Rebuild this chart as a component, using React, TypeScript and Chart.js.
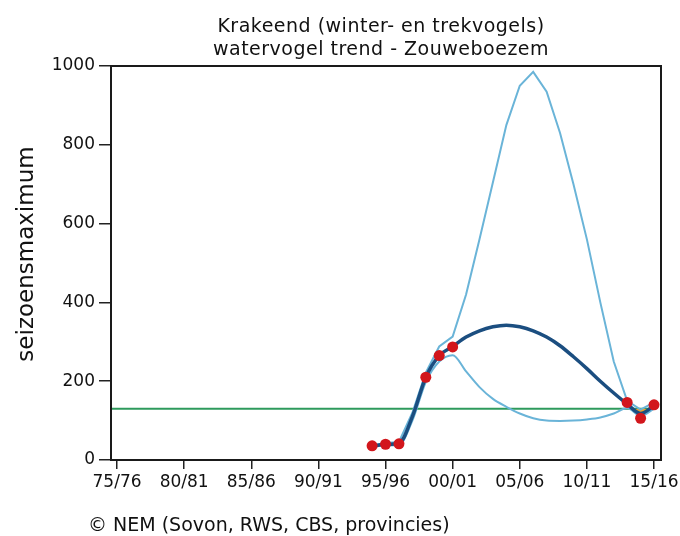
import React, { useEffect, useRef } from 'react';
import { Chart, registerables } from 'chart.js';

Chart.register(...registerables);

const titleLines = ['Krakeend (winter- en trekvogels)', 'watervogel trend - Zouweboezem'];
const footerText = '© NEM (Sovon, RWS, CBS, provincies)';
const yAxisTitle = 'seizoensmaximum';

const years = [1994, 1995, 1996, 1997, 1998, 1999, 2000, 2001, 2002, 2003, 2004, 2005, 2006, 2007, 2008, 2009, 2010, 2011, 2012, 2013, 2014, 2015];
const trend = [35, 40, 42, 110, 210, 265, 288, 312, 328, 338, 342, 338, 328, 312, 290, 262, 232, 200, 170, 142, 118, 138];
const upper = [37, 43, 46, 120, 222, 288, 313, 420, 560, 705, 850, 950, 985, 935, 830, 700, 560, 400, 250, 150, 128, 146];
const lower = [33, 37, 38, 100, 198, 250, 266, 225, 185, 155, 135, 118, 106, 100, 99, 100, 103, 108, 118, 132, 112, 130];

const obsYears = [1994, 1995, 1996, 1998, 1999, 2000, 2013, 2014, 2015];
const obsValues = [36, 40, 41, 210, 265, 287, 146, 106, 140];

const baselineValue = 130;
const baselineYears = [1974.55, 2015];

const tickYears = [1975, 1980, 1985, 1990, 1995, 2000, 2005, 2010, 2015];
const tickLabels = ['75/76', '80/81', '85/86', '90/91', '95/96', '00/01', '05/06', '10/11', '15/16'];
const yTicks = [0, 200, 400, 600, 800, 1000];
const yTickLabels = ['0', '200', '400', '600', '800', '1000'];

const X_MIN = 1974.55;
const X_MAX = 2015.52;

const FONT = '"DejaVu Sans", Verdana, sans-serif';

const decorPlugin = {
  id: 'decor',
  afterDraw(chart: any) {
    const { ctx, chartArea: a } = chart;
    ctx.save();
    ctx.strokeStyle = '#1a1a1a';
    ctx.lineWidth = 2;
    ctx.strokeRect(a.left, a.top, a.right - a.left, a.bottom - a.top);
    ctx.fillStyle = '#111';
    ctx.font = `19px ${FONT}`;
    ctx.textAlign = 'center';
    ctx.textBaseline = 'alphabetic';
    (ctx as any).letterSpacing = '0.5px';
    ctx.fillText(titleLines[0], 381, 32);
    ctx.fillText(titleLines[1], 381, 55);
    (ctx as any).letterSpacing = '0px';
    ctx.textAlign = 'left';
    ctx.fillText(footerText, 88, 531);
    // y-axis title
    ctx.save();
    ctx.translate(27, 254);
    ctx.rotate(-Math.PI / 2);
    ctx.font = `23px ${FONT}`;
    ctx.textAlign = 'center';
    ctx.textBaseline = 'middle';
    ctx.fillText(yAxisTitle, 0, 0);
    ctx.restore();
    ctx.restore();
  },
};

export default function App() {
  const ref = useRef<HTMLCanvasElement | null>(null);

  useEffect(() => {
    if (!ref.current) return;
    const toXY = (xs: number[], ys: number[]) => xs.map((x, i) => ({ x, y: ys[i] }));
    const i2013 = years.indexOf(2013);

    const chart = new Chart(ref.current, {
      type: 'line',
      data: {
        datasets: [
          {
            label: 'telling',
            data: toXY(obsYears, obsValues),
            showLine: false,
            pointRadius: 5.5,
            pointBackgroundColor: '#d2161c',
            pointBorderColor: '#d2161c',
            pointBorderWidth: 0,
          },
          {
            label: 'trend',
            data: toXY(years, trend),
            borderColor: '#1b4e80',
            borderWidth: 3.5,
            pointRadius: 0,
            cubicInterpolationMode: 'monotone',
            fill: false,
          },
          {
            label: 'bovengrens',
            data: toXY(years, upper),
            borderColor: '#6ab4d8',
            borderWidth: 2,
            pointRadius: 0,
            tension: 0,
            fill: false,
          },
          {
            label: 'ondergrens',
            data: toXY(years, lower),
            borderColor: '#6ab4d8',
            borderWidth: 2,
            pointRadius: 0,
            cubicInterpolationMode: 'monotone',
            fill: false,
          },
          {
            label: 'afname',
            data: toXY(years.slice(i2013), trend.slice(i2013)),
            borderWidth: 0,
            borderColor: 'rgba(0,0,0,0)',
            pointRadius: 0,
            cubicInterpolationMode: 'monotone',
            fill: { target: { value: baselineValue }, above: 'rgba(0,0,0,0)', below: '#f4a428' },
          },
          {
            label: 'referentie',
            data: baselineYears.map((x) => ({ x, y: baselineValue })),
            borderColor: '#2e9a5c',
            borderWidth: 2,
            pointRadius: 0,
            tension: 0,
            fill: false,
          },
        ],
      },
      options: {
        animation: false,
        responsive: false,
        events: [],
        layout: { padding: { left: 0, right: 19, top: 66, bottom: 36 } },
        plugins: {
          legend: { display: false },
          tooltip: { enabled: false },
          title: { display: false },
        },
        scales: {
          x: {
            type: 'linear',
            min: X_MIN,
            max: X_MAX,
            afterBuildTicks: (s: any) => {
              s.ticks = tickYears.map((v) => ({ value: v }));
            },
            afterFit: (s: any) => {
              s.height = 40;
              s.paddingLeft = 0;
              s.paddingRight = 0;
            },
            ticks: {
              autoSkip: false,
              maxRotation: 0,
              padding: 3,
              color: '#111',
              font: { family: FONT, size: 17 },
              callback: (_v: any, i: number) => tickLabels[i],
            },
            grid: { drawOnChartArea: false, tickLength: 9, color: '#222', lineWidth: 1.5 },
            border: { color: '#1a1a1a', width: 2 },
          },
          y: {
            min: 0,
            max: 1000,
            afterBuildTicks: (s: any) => {
              s.ticks = yTicks.map((v) => ({ value: v }));
            },
            afterFit: (s: any) => {
              s.width = 111;
            },
            ticks: {
              padding: 4,
              color: '#111',
              font: { family: FONT, size: 17 },
              callback: (_v: any, i: number) => yTickLabels[i],
            },
            grid: { drawOnChartArea: false, tickLength: 12, color: '#222', lineWidth: 1.5 },
            border: { color: '#1a1a1a', width: 2 },
          },
        },
      },
      plugins: [decorPlugin],
    } as any);

    return () => chart.destroy();
  }, []);

  return (
    <div style={{ position: 'absolute', left: 0, top: 0, width: 680, height: 536, background: '#fff' }}>
      <canvas ref={ref} width={680} height={536} />
    </div>
  );
}
